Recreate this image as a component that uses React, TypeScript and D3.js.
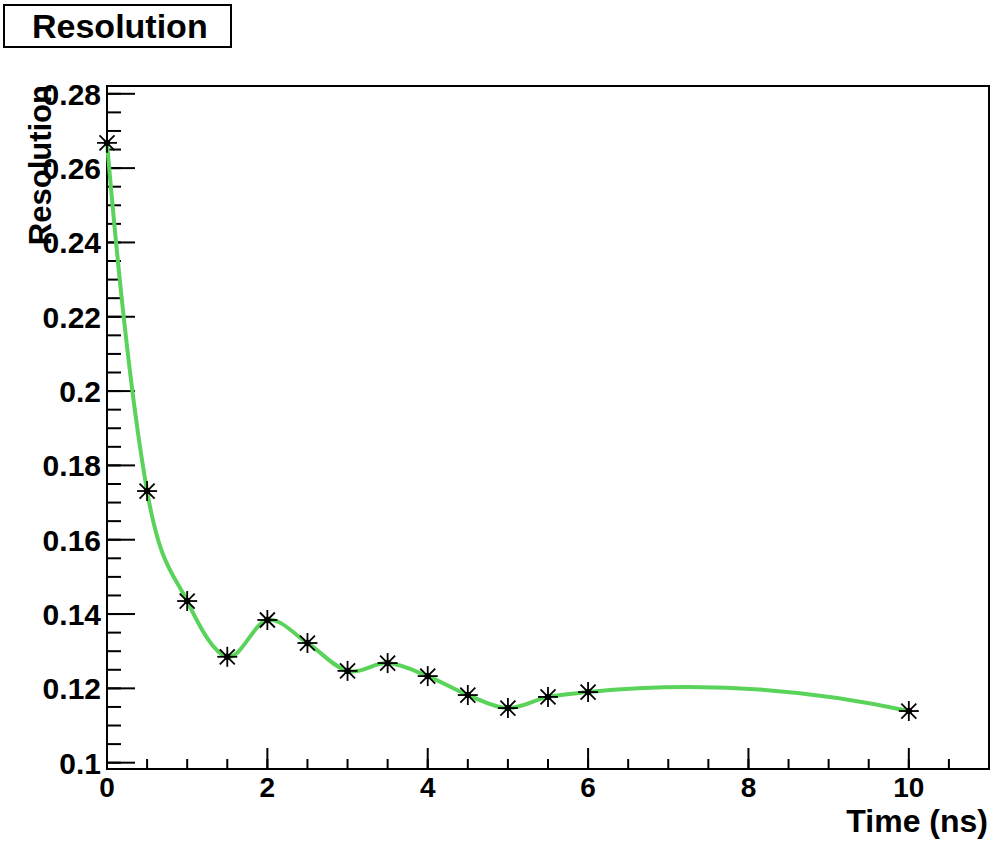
import React from "react";
import * as d3 from "d3";

// Measured timing resolution vs. time window
const times = [0, 0.5, 1, 1.5, 2, 2.5, 3, 3.5, 4, 4.5, 5, 5.5, 6, 10];
const resolution = [
  0.2668, 0.1731, 0.1435, 0.1285, 0.1384, 0.1322, 0.1247, 0.1268, 0.1233,
  0.1182, 0.1147, 0.1177, 0.119, 0.1139,
];
const yTickValues = [0.1, 0.12, 0.14, 0.16, 0.18, 0.2, 0.22, 0.24, 0.26, 0.28];
const xTickValues = [0, 2, 4, 6, 8, 10];

const W = 992;
const H = 841;
const frame = { left: 107, right: 989, top: 86, bottom: 769 };
const FONT = "'Liberation Sans', Arial, Helvetica, sans-serif";

// d3 curve factory: piecewise cubic Hermite whose tangents are the slopes of the
// parabola through each point and its neighbours (Bessel tangents).
function curveBessel(context: any) {
  let xs: number[] = [];
  let ys: number[] = [];
  return {
    areaStart() {},
    areaEnd() {},
    lineStart() {
      xs = [];
      ys = [];
    },
    point(px: number, py: number) {
      xs.push(+px);
      ys.push(+py);
    },
    lineEnd() {
      const n = xs.length;
      if (!n) return;
      context.moveTo(xs[0], ys[0]);
      if (n === 1) return;
      if (n === 2) {
        context.lineTo(xs[1], ys[1]);
        return;
      }
      const h: number[] = [];
      const s: number[] = [];
      for (let i = 0; i < n - 1; i++) {
        h.push(xs[i + 1] - xs[i]);
        s.push((ys[i + 1] - ys[i]) / h[i]);
      }
      const m = new Array(n).fill(0);
      for (let i = 1; i < n - 1; i++) {
        m[i] = (s[i - 1] * h[i] + s[i] * h[i - 1]) / (h[i - 1] + h[i]);
      }
      const c0 = (s[1] - s[0]) / (h[0] + h[1]);
      m[0] = s[0] - c0 * h[0];
      const cN = (s[n - 2] - s[n - 3]) / (h[n - 3] + h[n - 2]);
      m[n - 1] = s[n - 2] + cN * h[n - 2];
      for (let i = 0; i < n - 1; i++) {
        const d = h[i] / 3;
        context.bezierCurveTo(
          xs[i] + d,
          ys[i] + m[i] * d,
          xs[i + 1] - d,
          ys[i + 1] - m[i + 1] * d,
          xs[i + 1],
          ys[i + 1]
        );
      }
    },
  };
}

export default function App() {
  const x = d3.scaleLinear().domain([0, 11]).range([frame.left, frame.right]);
  const y = d3
    .scaleLinear()
    .domain([0.0983, 0.2821])
    .range([frame.bottom, frame.top]);

  const pts: [number, number][] = times.map((t, i) => [t, resolution[i]]);
  const line = d3
    .line<[number, number]>()
    .x((d) => x(d[0]))
    .y((d) => y(d[1]))
    .curve(curveBessel as any);

  const yMinor = d3.range(0.1, 0.2821, 0.005).filter((v) => y(v) <= frame.bottom);
  const xMinor = d3.range(0, 11.001, 0.5);

  const star = (cx: number, cy: number, k: number) => {
    const r = 10;
    const d = 7.5;
    return (
      <g key={k} stroke="#000" strokeWidth={1.8}>
        <line x1={cx - r} y1={cy} x2={cx + r} y2={cy} />
        <line x1={cx} y1={cy - r} x2={cx} y2={cy + r} />
        <line x1={cx - d} y1={cy - d} x2={cx + d} y2={cy + d} />
        <line x1={cx - d} y1={cy + d} x2={cx + d} y2={cy - d} />
        <circle cx={cx} cy={cy} r={3.2} fill="#000" stroke="none" />
      </g>
    );
  };

  return (
    <svg
      width={W}
      height={H}
      style={{ position: "absolute", left: 0, top: 0, background: "#fff" }}
      fontFamily={FONT}
      fontWeight="bold"
    >
      <rect x={0} y={0} width={W} height={H} fill="#fff" />

      {/* title box */}
      <rect x={4} y={5} width={227} height={42} fill="#fff" stroke="#000" strokeWidth={2} />
      <text x={32} y={38} fontSize={34}>
        Resolution
      </text>

      {/* frame */}
      <rect
        x={frame.left}
        y={frame.top}
        width={frame.right - frame.left}
        height={frame.bottom - frame.top}
        fill="none"
        stroke="#000"
        strokeWidth={2}
      />

      {/* y ticks */}
      <g stroke="#000" strokeWidth={2}>
        {yMinor.map((v, i) => (
          <line key={"ym" + i} x1={frame.left} x2={frame.left + 14} y1={y(v)} y2={y(v)} />
        ))}
        {yTickValues.map((v, i) => (
          <line key={"yM" + i} x1={frame.left} x2={frame.left + 28} y1={y(v)} y2={y(v)} />
        ))}
      </g>
      {yTickValues.map((v, i) => (
        <text key={"yl" + i} x={101} y={y(v) + 11} fontSize={30} textAnchor="end">
          {String(+v.toFixed(2))}
        </text>
      ))}

      {/* x ticks */}
      <g stroke="#000" strokeWidth={2}>
        {xMinor.map((v, i) => (
          <line key={"xm" + i} x1={x(v)} x2={x(v)} y1={frame.bottom} y2={frame.bottom - 10} />
        ))}
        {xTickValues.map((v, i) => (
          <line key={"xM" + i} x1={x(v)} x2={x(v)} y1={frame.bottom} y2={frame.bottom - 21} />
        ))}
      </g>
      {xTickValues.map((v, i) => (
        <text key={"xl" + i} x={x(v)} y={797} fontSize={28} textAnchor="middle">
          {String(v)}
        </text>
      ))}

      {/* axis titles */}
      <text x={988} y={832} fontSize={32} textAnchor="end">
        Time (ns)
      </text>
      <text
        transform={`translate(51, 85) rotate(-90)`}
        fontSize={31}
        textAnchor="end"
      >
        Resolution
      </text>

      {/* smoothed curve */}
      <path d={line(pts) ?? ""} fill="none" stroke="#5ad35a" strokeWidth={4} />

      {/* markers */}
      {pts.map((p, i) => star(x(p[0]), y(p[1]), i))}
    </svg>
  );
}
